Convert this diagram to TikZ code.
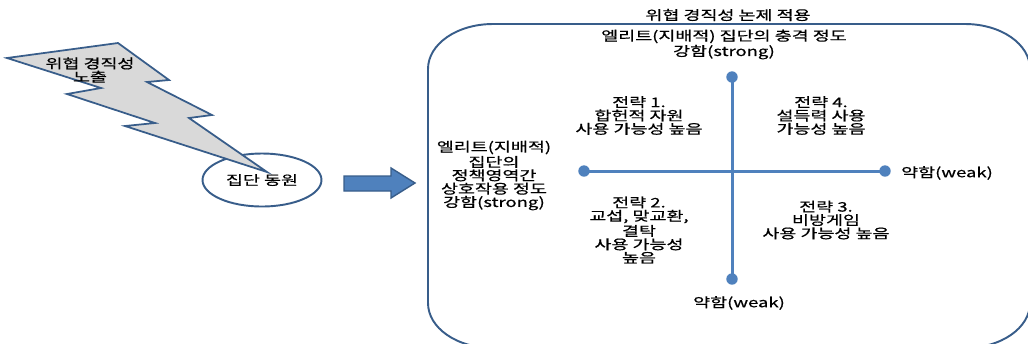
\documentclass[tikz,border=0pt]{standalone}
\usepackage{fontspec}
\setmainfont{Noto Sans CJK KR}[FakeStretch=1.4,FakeBold=0.6]
\usepackage{tikz}
\usetikzlibrary{shapes.geometric}
\definecolor{boxblue}{HTML}{385D8A}
\definecolor{axisblue}{HTML}{4F81BD}
\definecolor{boltgray}{HTML}{D9D9D9}

\begin{document}
\begin{tikzpicture}[x=0.02cm,y=-0.02cm,
    lbl/.style={font=\fontsize{7.5}{7.6}\selectfont, align=center, inner sep=0pt},
    outline/.style={draw=boxblue, line width=1.1pt},
    axis/.style={draw=axisblue, line width=1.7pt},
    dot/.style={circle, fill=axisblue, inner sep=0pt, minimum size=6.5pt}]
    \clip (0,0) rectangle (1028,343);

    % left part
    \node [ellipse, outline, fill=white, minimum width=2.38cm, minimum height=1.06cm] (mob) at (262,180) {};
    \draw [outline, line width=1pt, fill=boltgray] (7,58) -- (118,43) -- (169,80) -- (147,82) -- (212,115) -- (189,118)
        -- (267,172) -- (125,126) -- (155,123) -- (67,94) -- (101,88) -- cycle;
    \node [lbl] (threat) at (90,70) {위협 경직성\\노출};
    \node [lbl] at (mob) {집단 동원};

    \draw [draw=boxblue, line width=0.8pt, fill=axisblue] (344,176) -- (391,176) -- (391,168) -- (415,183)
        -- (391,198) -- (391,191) -- (344,191) -- cycle;

    % frame
    \node [lbl] (title) at (728,15) {위협 경직성 논제 적용};
    \draw [outline] (428,69) .. controls (428,44) and (457,24) .. (493,24) -- (965,24)
        .. controls (1001,24) and (1030,44) .. (1030,69) -- (1030,303)
        .. controls (1030,328) and (1001,348) .. (965,348) -- (493,348)
        .. controls (457,348) and (428,328) .. (428,303) -- cycle;

    % axes
    \node [dot] (top) at (732,77) {};
    \node [dot] (bot) at (732,279) {};
    \node [dot] (lft) at (584,171) {};
    \node [dot] (rgt) at (885,171) {};
    \draw [axis] (top.center) -- (bot.center);
    \draw [axis] (lft.center) -- (rgt.center);

    \node [lbl] (impact) at (724,44.5) {엘리트(지배적) 집단의 충격 정도\\강함(strong)};
    \node [lbl] (weakx) at (947,173) {약함(weak)};
    \node [lbl] (weaky) at (739,303) {약함(weak)};
    \node [lbl] (inter) at (494,175.5) {엘리트(지배적)\\집단의\\정책영역간\\상호작용 정도\\강함(strong)};

    % quadrants
    \node [lbl] (s1) at (639,115.5) {전략 1.\\합헌적 자원\\사용 가능성 높음};
    \node [lbl] (s4) at (821,115.5) {전략 4.\\설득력 사용\\가능성 높음};
    \node [lbl] (s2) at (639,230) {전략 2.\\교섭, 맞교환,\\결탁\\사용 가능성\\높음};
    \node [lbl] (s3) at (826,220) {전략 3.\\비방게임\\사용 가능성 높음};
\end{tikzpicture}
\end{document}
